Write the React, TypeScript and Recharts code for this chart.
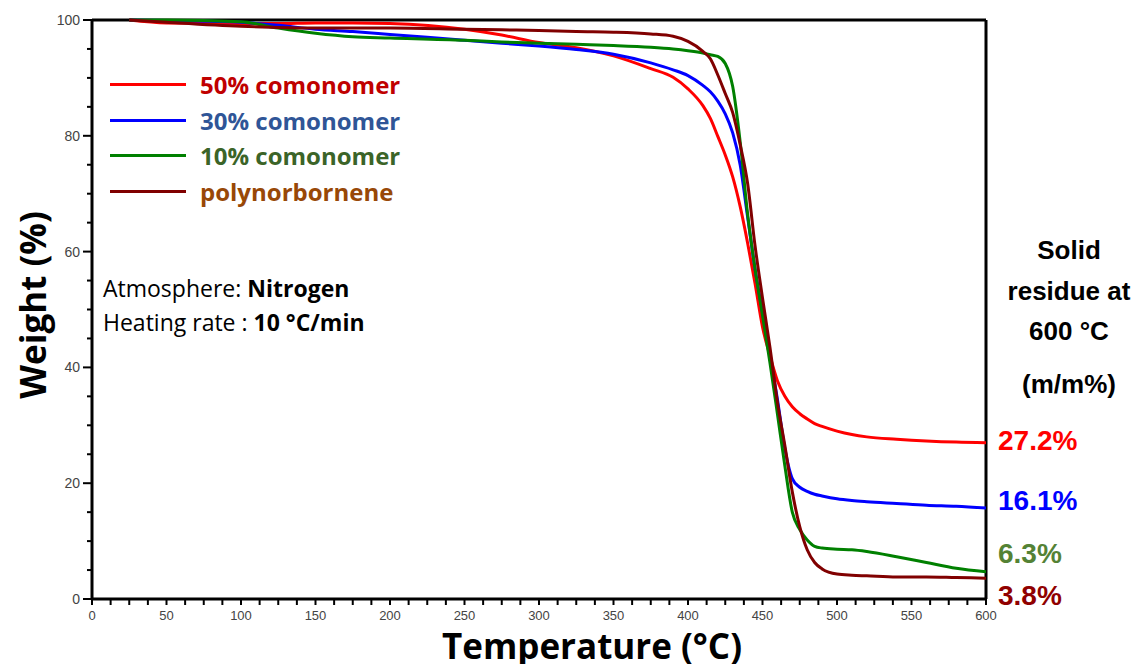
import { LineChart, Line, XAxis, YAxis, ReferenceLine, Legend } from "recharts";

// temperature grid (°C) shared by all four TGA curves
const temps = [25, 50, 100, 125, 150, 175, 200, 250, 275, 300, 325, 350, 375, 390, 400, 410, 415, 420, 425, 430, 435, 440, 445, 450, 455, 460, 465, 470, 475, 480, 485, 490, 500, 510, 520, 540, 560, 580, 600];

const como50 = [100, 99.5, 99.4, 99.4, 99.5, 99.5, 99.4, 98.4, 97.4, 96.1, 95.2, 93.8, 91.6, 90.1, 88.1, 85.2, 83.0, 79.9, 76.7, 72.9, 67.8, 61.5, 54.5, 47.0, 42.0, 37.7, 35.0, 33.2, 32.0, 31.1, 30.3, 29.8, 29.0, 28.4, 28.0, 27.6, 27.3, 27.1, 27.0];
const como30 = [100, 99.9, 99.6, 99.1, 98.4, 98.0, 97.5, 96.5, 96.0, 95.5, 94.9, 94.1, 92.6, 91.4, 90.4, 88.7, 87.6, 86.0, 83.8, 80.5, 75.0, 66.0, 57.0, 49.5, 42.0, 34.5, 26.0, 20.8, 19.3, 18.6, 18.1, 17.8, 17.3, 17.0, 16.8, 16.5, 16.2, 16.0, 15.7];
const como10 = [100, 100, 99.7, 98.6, 97.7, 97.1, 96.9, 96.5, 96.2, 96.0, 95.8, 95.6, 95.3, 95.0, 94.7, 94.3, 94.0, 93.7, 92.5, 88.5, 79.0, 66.5, 57.0, 49.0, 40.8, 32.0, 23.0, 15.0, 12.0, 10.2, 9.1, 8.8, 8.6, 8.5, 8.2, 7.3, 6.3, 5.3, 4.7];
const pnb = [100, 99.6, 98.9, 98.7, 98.6, 98.6, 98.6, 98.4, 98.3, 98.2, 98.0, 97.9, 97.6, 97.2, 96.3, 94.6, 93.3, 90.5, 87.3, 84.0, 78.5, 71.8, 61.0, 52.0, 43.5, 34.0, 26.5, 18.5, 12.5, 8.5, 6.3, 5.2, 4.3, 4.1, 4.0, 3.8, 3.8, 3.7, 3.6];

const seriesNames = ["50% comonomer", "30% comonomer", "10% comonomer", "polynorbornene"];
const lineColors = ["#ff0000", "#0000ff", "#008000", "#800000"];
const legendTextColors = ["#c00000", "#2f5597", "#3b6428", "#984807"];

const residueLabels = ["27.2%", "16.1%", "6.3%", "3.8%"];
const residueColors = ["#ff0000", "#0000ff", "#548235", "#900000"];
const residueHeader = ["Solid", "residue at", "600 °C", "(m/m%)"];

const xTicks = Array.from({ length: 49 }, (_, i) => i * 12.5);
const yTicks = Array.from({ length: 21 }, (_, i) => i * 5);

const data = temps.map((t, i) => ({
  t,
  c50: como50[i],
  c30: como30[i],
  c10: como10[i],
  pnb: pnb[i],
}));
const keys = ["c50", "c30", "c10", "pnb"];

const XTick = ({ x, y, payload }: any) => {
  const v = payload.value;
  const major = v % 50 === 0;
  return (
    <g>
      <line x1={x} x2={x} y1={y} y2={y + 6} stroke="#000" strokeWidth={2} />
      {major && (
        <text x={x} y={y + 21} textAnchor="middle" fontSize={13} fill="#444"
          fontFamily="'Liberation Sans Narrow', 'Arial Narrow', 'Liberation Sans', sans-serif">
          {v}
        </text>
      )}
    </g>
  );
};

const YTick = ({ x, y, payload }: any) => {
  const v = payload.value;
  const major = v % 20 === 0;
  return (
    <g>
      <line x1={x} x2={x - (major ? 9 : 5)} y1={y} y2={y} stroke="#000" strokeWidth={2} />
      {major && (
        <text x={x - 12} y={y + 5} textAnchor="end" fontSize={14} fill="#444"
          fontFamily="'Liberation Sans', Arial, sans-serif">
          {v}
        </text>
      )}
    </g>
  );
};

const renderLegend = () => (
  <div style={{ fontFamily: "'Open Sans', sans-serif" }}>
    {seriesNames.map((n, i) => (
      <div key={n} style={{ display: "flex", alignItems: "center", height: 35.5 }}>
        <div style={{ width: 76, height: 3, background: lineColors[i], marginRight: 14 }} />
        <span style={{ color: legendTextColors[i], fontWeight: 700, fontSize: 24 }}>{n}</span>
      </div>
    ))}
  </div>
);

export default function App() {
  return (
    <div style={{ position: "absolute", left: 0, top: 0, width: 1145, height: 664, background: "#fff" }}>
      <LineChart width={1145} height={664} data={data} margin={{ top: 20, right: 159, bottom: 0, left: 0 }}>
        <XAxis
          dataKey="t"
          type="number"
          domain={[0, 600]}
          ticks={xTicks}
          interval={0}
          height={65}
          tickSize={0}
          tickMargin={0}
          tickLine={false}
          tick={<XTick />}
          axisLine={{ stroke: "#000", strokeWidth: 3 }}
        />
        <YAxis
          type="number"
          domain={[0, 100]}
          ticks={yTicks}
          interval={0}
          width={92}
          tickSize={0}
          tickMargin={0}
          tickLine={false}
          tick={<YTick />}
          axisLine={{ stroke: "#000", strokeWidth: 3 }}
        />
        <ReferenceLine y={100} stroke="#000" strokeWidth={3} />
        <ReferenceLine x={600} stroke="#000" strokeWidth={3} />
        {keys.map((k, i) => (
          <Line
            key={k}
            type="monotone"
            dataKey={k}
            name={seriesNames[i]}
            stroke={lineColors[i]}
            strokeWidth={3}
            dot={false}
            isAnimationActive={false}
          />
        ))}
        <Legend
          content={renderLegend}
          layout="horizontal"
          verticalAlign="middle"
          align="center"
          wrapperStyle={{ position: "absolute", left: 110, top: 67, width: 320 }}
        />
        <text x={46} y={305} transform="rotate(-90 46 305)" textAnchor="middle" fontSize={35} fontWeight={700}
          fontFamily="'Open Sans', sans-serif" fill="#000">
          Weight (%)
        </text>
        <text x={592} y={659} textAnchor="middle" fontSize={35} fontWeight={700}
          fontFamily="'Open Sans', sans-serif" fill="#000">
          Temperature (°C)
        </text>
        <text x={103} y={297} fontSize={23} fontFamily="'Open Sans', sans-serif" fill="#000">
          Atmosphere: <tspan fontWeight={700}>Nitrogen</tspan>
        </text>
        <text x={103} y={331} fontSize={23} fontFamily="'Open Sans', sans-serif" fill="#000">
          Heating rate : <tspan fontWeight={700}>10 °C/min</tspan>
        </text>
        {residueHeader.map((s, i) => (
          <text key={s} x={1069} y={[259, 300, 340, 393][i]} textAnchor="middle" fontSize={26} fontWeight={700}
            fontFamily="'Liberation Sans', Arial, sans-serif" fill="#000">
            {s}
          </text>
        ))}
        {residueLabels.map((s, i) => (
          <text key={s} x={998} y={[450, 510, 563, 605][i]} fontSize={28} fontWeight={700}
            fontFamily="'Liberation Sans', Arial, sans-serif" fill={residueColors[i]}>
            {s}
          </text>
        ))}
      </LineChart>
    </div>
  );
}
